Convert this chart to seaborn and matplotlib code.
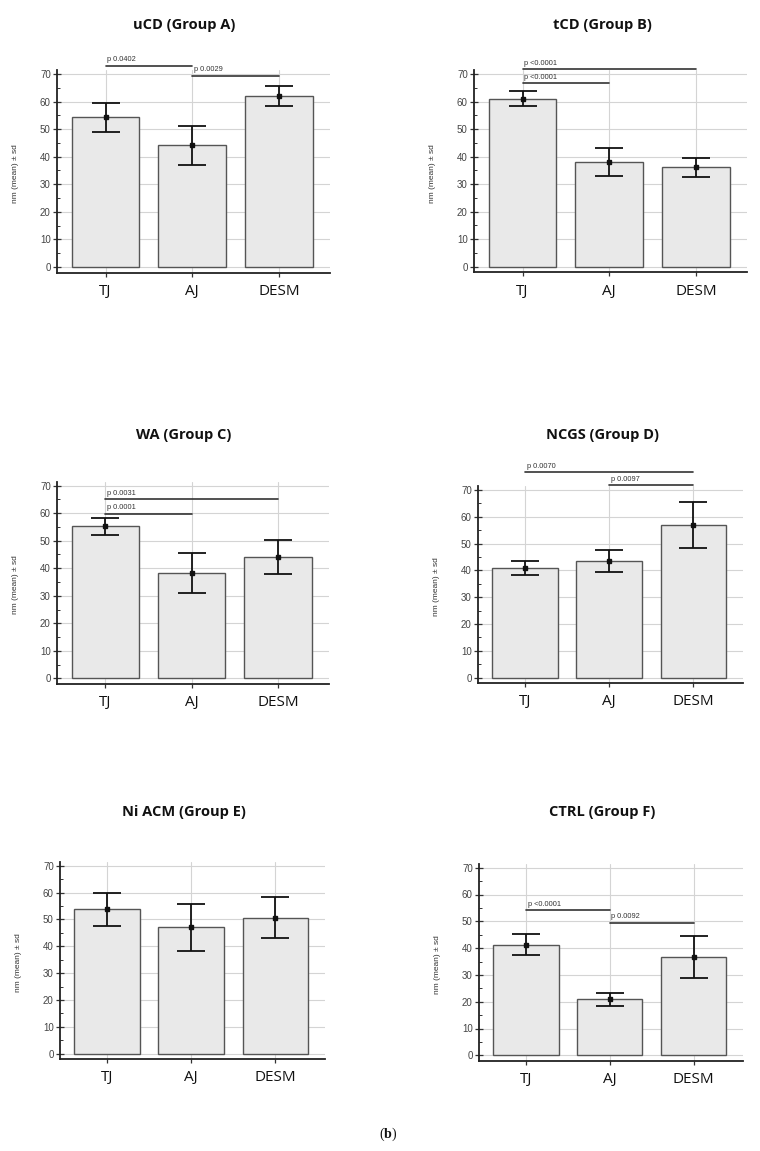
import pandas as pd
import matplotlib.pyplot as plt
from matplotlib.ticker import MultipleLocator
import seaborn as sns

# Sites on the x axis and panel titles
SITES = ["TJ", "AJ", "DESM"]
TITLES = ["uCD (Group A)", "tCD (Group B)", "WA (Group C)",
          "NCGS (Group D)", "Ni ACM (Group E)", "CTRL (Group F)"]

# mean (nm) and sd per site, one list per group
MEAN_A = [54.3, 44.2, 62.0]
SD_A = [5.3, 7.1, 3.55]
MEAN_B = [61.0, 38.0, 36.1]
SD_B = [2.65, 5.2, 3.5]
MEAN_C = [55.2, 38.4, 44.1]
SD_C = [2.95, 7.3, 6.25]
MEAN_D = [41.0, 43.5, 56.9]
SD_D = [2.65, 4.15, 8.45]
MEAN_E = [53.7, 47.0, 50.6]
SD_E = [6.0, 8.8, 7.65]
MEAN_F = [41.3, 20.9, 36.7]
SD_F = [3.85, 2.4, 7.9]

# significance bars: (from site, to site, height, label)
SIG_A = [(0, 1, 73.0, "p 0.0402"), (1, 2, 69.4, "p 0.0029")]
SIG_B = [(0, 2, 71.7, "p <0.0001"), (0, 1, 66.6, "p <0.0001")]
SIG_C = [(0, 2, 65.0, "p 0.0031"), (0, 1, 59.8, "p 0.0001")]
SIG_D = [(0, 2, 76.6, "p 0.0070"), (1, 2, 71.7, "p 0.0097")]
SIG_E = []
SIG_F = [(0, 1, 54.2, "p <0.0001"), (1, 2, 49.5, "p 0.0092")]

MEANS = [MEAN_A, MEAN_B, MEAN_C, MEAN_D, MEAN_E, MEAN_F]
SDS = [SD_A, SD_B, SD_C, SD_D, SD_E, SD_F]
SIGS = [SIG_A, SIG_B, SIG_C, SIG_D, SIG_E, SIG_F]

W, H = 760, 1151
# panel frame in pixels: left, right, y of 70, y of 0
PANEL_PX = [(57, 330, 74, 267), (474, 747, 74, 266.7),
            (57, 329, 485.7, 678.3), (478, 743, 490, 677.7),
            (60, 325, 865.7, 1053.7), (479, 743, 867.7, 1055.3)]
TITLE_PX = [(184, 25), (602, 25), (184, 435), (602, 435), (184, 812), (602, 812)]
YLIM = (-2.1, 71.5)
XLIM = (-0.56, 2.59)

sns.set_style("white")
plt.rcParams['font.family'] = ['Liberation Sans', 'DejaVu Sans']
plt.rcParams['mathtext.fontset'] = 'custom'
plt.rcParams['mathtext.rm'] = 'Liberation Serif'
plt.rcParams['mathtext.bf'] = 'Liberation Serif:bold'

fig = plt.figure(figsize=(W / 100, H / 100), dpi=100)
fig.patch.set_facecolor('white')


def draw_panel(k):
    left, right, y70, y0 = PANEL_PX[k]
    ppu = (y0 - y70) / 70.0
    top = y70 - (YLIM[1] - 70) * ppu
    bot = y0 - YLIM[0] * ppu
    ax = fig.add_axes([left / W, 1 - bot / H, (right - left) / W, (bot - top) / H])

    df = pd.DataFrame({'site': SITES, 'mean': MEANS[k], 'sd': SDS[k]})
    sns.barplot(data=df, x='site', y='mean', ax=ax, color='#e9e9e9',
                edgecolor='#555555', linewidth=1.0, width=0.78,
                errorbar=None, saturation=1, zorder=2)
    xs = range(len(SITES))
    ax.errorbar(xs, df['mean'], yerr=df['sd'], fmt='none', ecolor='#111111',
                elinewidth=1.3, capsize=10, capthick=1.3, zorder=3)
    ax.plot(xs, df['mean'], 's', color='#111111', markersize=3, zorder=4)

    for i, j, h, lab in SIGS[k]:
        ax.plot([i, j], [h, h], color='#333333', lw=1.2, clip_on=False, zorder=4)
        ax.text(i + 0.02, h + 0.9, lab, fontsize=5.3, color='#333333',
                ha='left', va='bottom')

    ax.set_xlim(*XLIM)
    ax.set_ylim(*YLIM)
    ax.set_yticks(range(0, 71, 10))
    ax.yaxis.set_minor_locator(MultipleLocator(5))
    ax.set_axisbelow(True)
    ax.grid(True, which='major', color='#d4d4d4', lw=0.8)
    for side in ['top', 'right']:
        ax.spines[side].set_visible(False)
    for side in ['left', 'bottom']:
        ax.spines[side].set_color('#222222')
        ax.spines[side].set_linewidth(1.3)

    ax.tick_params(axis='y', which='major', direction='inout', length=6,
                   width=0.9, color='#333333', labelsize=7,
                   labelcolor='#444444', pad=1.5, left=True)
    ax.tick_params(axis='y', which='minor', direction='in', length=2.5,
                   width=0.7, color='#333333', left=True)
    ax.tick_params(axis='x', direction='out', length=3, width=0.9,
                   color='#333333', pad=5, bottom=True)
    for t in ax.get_xticklabels():
        t.set_fontfamily('Open Sans')
        t.set_fontsize(11)
        t.set_color('#111111')

    ax.set_xlabel('')
    ax.set_ylabel('nm (mean) \u00b1 sd', fontsize=6, color='#333333')
    ax.yaxis.set_label_coords(-38 / (right - left), 0.49)

    tx, ty = TITLE_PX[k]
    fig.text(tx / W, 1 - ty / H, TITLES[k], ha='center', va='center',
             fontsize=10.5, fontweight='bold', family='Open Sans', color='#111111')


for k in range(6):
    draw_panel(k)

fig.text(388 / W, 1 - 1134 / H, r'($\mathbf{b}$)', ha='center', va='center',
         fontsize=10, family='Liberation Serif', color='#111111')

fig.savefig('out.png', dpi=100, facecolor='white')
